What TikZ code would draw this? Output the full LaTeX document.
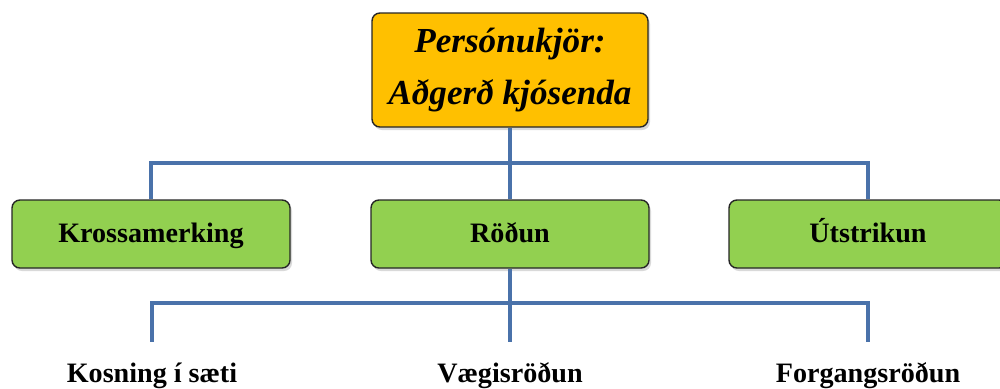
\documentclass[tikz,border=0pt]{standalone}
\usepackage{fontspec}
\setmainfont{Liberation Serif}
\definecolor{headorange}{RGB}{255, 192, 0}
\definecolor{kindgreen}{RGB}{146, 208, 80}
\definecolor{linkblue}{RGB}{74, 114, 170}
\usetikzlibrary{shadows, positioning}

\begin{document}
\begin{tikzpicture}[
  headbox/.style={draw=black!85, line width=0.8pt, rounded corners=4.5pt, fill=headorange,
    minimum width=5.52cm, minimum height=2.28cm, align=center,
    font=\bfseries\itshape\fontsize{20}{30}\selectfont,
    drop shadow={shadow xshift=0.04cm, shadow yshift=-0.06cm, opacity=0.3}},
  kindbox/.style={draw=black!85, line width=0.8pt, rounded corners=4.5pt, fill=kindgreen,
    minimum width=5.56cm, minimum height=1.36cm, text height=0.42cm, text depth=0.1cm,
    font=\bfseries\fontsize{16}{19}\selectfont,
    drop shadow={shadow xshift=0.04cm, shadow yshift=-0.06cm, opacity=0.3}},
  leaf/.style={anchor=base, text height=0.42cm, text depth=0.1cm, inner ysep=0.38cm,
    font=\bfseries\fontsize{16}{19}\selectfont},
  link/.style={draw=linkblue, line width=2.8pt}
]
  \useasboundingbox (0,0) rectangle (20,-7.76);

  % top box
  \node[headbox] (head) at (10.2,-1.4) {Persónukjör:\\Aðgerð kjósenda};

  % first level
  \node[kindbox] (kross) at (3.02,-4.68) {Krossamerking};
  \node[kindbox] (rodun) at (10.2,-4.68) {Röðun};
  \node[kindbox] (utstrik) at (17.36,-4.68) {Útstrikun};

  % second level
  \node[leaf] (saeti) at (3.04,-7.64) {Kosning í sæti};
  \node[leaf] (vaegi) at (10.2,-7.64) {Vægisröðun};
  \node[leaf] (forgang) at (17.36,-7.64) {Forgangsröðun};

  \coordinate (bus1) at (10.2,-3.26);
  \coordinate (bus2) at (10.2,-6.06);

  \draw[link] (head.south) -- (bus1);
  \draw[link] (kross.north) |- (bus1) -| (utstrik.north);
  \draw[link] (bus1) -- (rodun.north);

  \draw[link] (rodun.south) -- (bus2);
  \draw[link] (saeti.north) |- (bus2) -| (forgang.north);
  \draw[link] (bus2) -- (vaegi.north);
\end{tikzpicture}
\end{document}
